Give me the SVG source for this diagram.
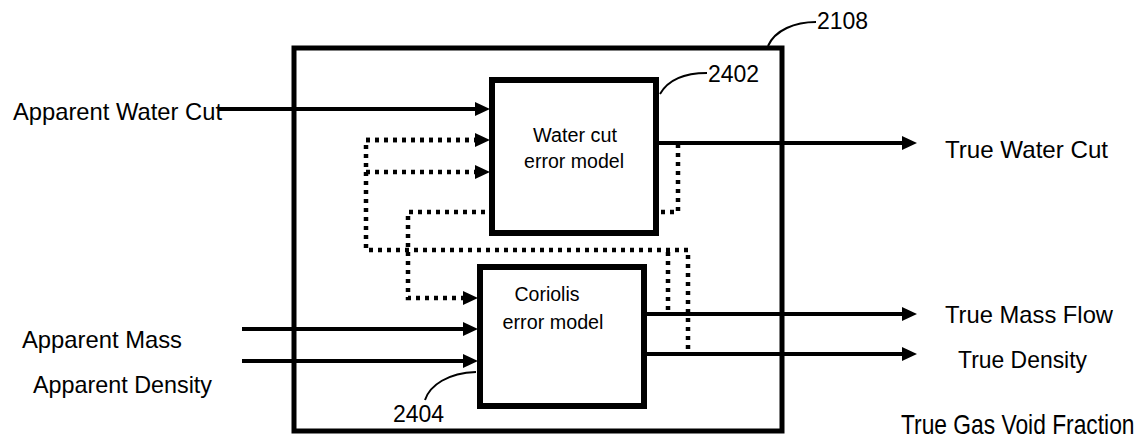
<svg xmlns="http://www.w3.org/2000/svg" width="1144" height="445" viewBox="0 0 1144 445">
<defs>
<style>
text{font-family:"Liberation Sans",Arial,sans-serif;fill:#000}
.lbl{font-size:24px}
.in{font-size:20px;text-anchor:middle}
.num{font-size:23px}
.box{fill:#fff;stroke:#000;stroke-width:6}
.outer{fill:none;stroke:#000;stroke-width:5}
.solid{fill:none;stroke:#000;stroke-width:4}
.dot{fill:none;stroke:#000;stroke-width:4.5;stroke-dasharray:4 5}
.lead{fill:none;stroke:#000;stroke-width:2}
</style>
<marker id="ah" markerUnits="userSpaceOnUse" markerWidth="16" markerHeight="14" viewBox="0 0 16 14" refX="3" refY="7" orient="auto">
<path d="M0,0 L15,7 L0,14 z" fill="#000"/>
</marker>
</defs>
<rect width="1144" height="445" fill="#fff"/>

<g id="n2108">
<rect class="outer" x="294" y="48" width="488" height="383"/>
<path class="lead" d="M768,46 C775,30 795,22 816,22"/>
<text class="num" x="817" y="29">2108</text>
</g>

<g id="connectors">
<line class="solid" x1="218" y1="109" x2="478" y2="109" marker-end="url(#ah)"/>
<path class="dot" d="M478,140 H366 V250 H688 V354"/>
<line class="dot" x1="366" y1="140" x2="478" y2="140" marker-end="url(#ah)"/>
<line class="dot" x1="366" y1="172" x2="478" y2="172" marker-end="url(#ah)"/>
<path class="dot" d="M668,252 V314"/>
<path class="dot" d="M678,144 V212 H408 V298 H466" marker-end="url(#ah)"/>
<line class="solid" x1="656" y1="143" x2="905" y2="143" marker-end="url(#ah)"/>
<line class="solid" x1="644" y1="314" x2="905" y2="314" marker-end="url(#ah)"/>
<line class="solid" x1="644" y1="354" x2="905" y2="354" marker-end="url(#ah)"/>
<line class="solid" x1="242" y1="329" x2="466" y2="329" marker-end="url(#ah)"/>
<line class="solid" x1="242" y1="361" x2="466" y2="361" marker-end="url(#ah)"/>
</g>

<g id="n2402">
<rect class="box" x="492" y="80" width="164" height="153"/>
<text class="in" x="575" y="142" textLength="84" lengthAdjust="spacingAndGlyphs">Water cut</text>
<text class="in" x="574" y="168" textLength="100" lengthAdjust="spacingAndGlyphs">error model</text>
<path class="lead" d="M660,94 C668,80 685,73 707,73"/>
<text class="num" x="708" y="82">2402</text>
</g>

<g id="n2404">
<rect class="box" x="480" y="267" width="164" height="139"/>
<text class="in" x="547" y="301" textLength="65" lengthAdjust="spacingAndGlyphs">Coriolis</text>
<text class="in" x="553" y="329" textLength="101" lengthAdjust="spacingAndGlyphs">error model</text>
<path class="lead" d="M425,400 C430,385 448,373 476,372"/>
<text class="num" x="393" y="422">2404</text>
</g>

<g id="inputs">
<text class="lbl" x="13" y="120" textLength="209" lengthAdjust="spacingAndGlyphs">Apparent Water Cut</text>
<text class="lbl" x="22" y="348" textLength="160" lengthAdjust="spacingAndGlyphs">Apparent Mass</text>
<text class="lbl" x="33" y="393" textLength="179" lengthAdjust="spacingAndGlyphs">Apparent Density</text>
</g>

<g id="outputs">
<text class="lbl" x="945" y="158" textLength="163" lengthAdjust="spacingAndGlyphs">True Water Cut</text>
<text class="lbl" x="945" y="323" textLength="168" lengthAdjust="spacingAndGlyphs">True Mass Flow</text>
<text class="lbl" x="958" y="368" textLength="129" lengthAdjust="spacingAndGlyphs">True Density</text>
<text transform="translate(901,434) scale(1,1.2)" style="font-size:22.8px">True Gas Void Fraction</text>
</g>
</svg>
